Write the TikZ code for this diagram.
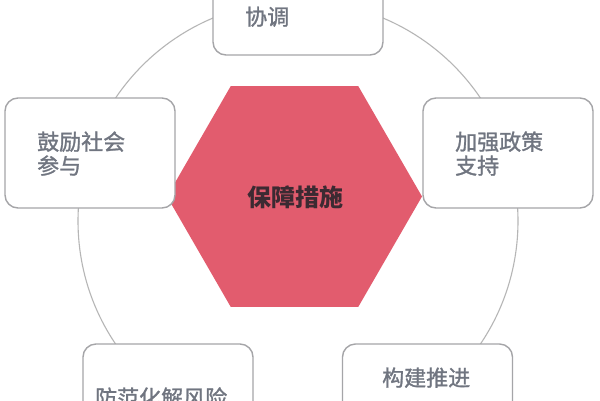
\documentclass[tikz,border=0pt]{standalone}
\usepackage{fontspec}
\setmainfont{Noto Sans CJK SC}
\newfontfamily\medcjk[FakeBold=1.2]{Noto Sans CJK SC}
\usetikzlibrary{shapes.geometric}
\definecolor{ringgray}{RGB}{182,182,182}
\definecolor{boxgray}{RGB}{165,165,168}
\definecolor{txtgray}{RGB}{112,117,128}
\definecolor{hexred}{RGB}{226,92,110}
\definecolor{hextxt}{RGB}{60,42,50}
\tikzset{
  ring/.style={draw=ringgray, line width=1.1pt},
  boxnode/.style={draw=boxgray, line width=1.4pt, fill=white, rounded corners=13pt,
    minimum width=170pt, minimum height=110pt, inner sep=0pt},
  boxtext/.style={anchor=base west, inner sep=0pt, text=txtgray,
    font=\medcjk\fontsize{22}{24}\selectfont},
  hexnode/.style={regular polygon, regular polygon sides=6, fill=hexred, draw=none,
    minimum size=255pt, inner sep=0pt},
  hextext/.style={anchor=base, inner sep=0pt, text=hextxt,
    font=\fontsize{24}{26}\selectfont\bfseries}
}
\begin{document}
\begin{tikzpicture}[x=1pt,y=-1pt]
\useasboundingbox (0,0) rectangle (600,400);
\clip (0,0) rectangle (600,400);
\fill[white] (0,0) rectangle (600,400);
% outer ring
\node[circle, minimum size=440pt, inner sep=0pt, ring] (ringc) at (298,221) {};
% central hexagon
\node[hexnode] (hex) at (294.5,196.5) {};
\node[hextext] (hexlabel) at (295,206) {保障措施};
% boxes
\node[boxnode] (btop) at (298,0) {};
\node[boxnode] (bleft) at (90,153) {};
\node[boxnode] (bright) at (508,153) {};
\node[boxnode] (bbl) at (168,399) {};
\node[boxnode] (bbr) at (427.5,399) {};
% texts
\node[boxtext] (ttop) at (245,25) {协调};
\node[boxtext] (tleft1) at (37,150) {鼓励社会};
\node[boxtext] (tleft2) at (37,174) {参与};
\node[boxtext] (tright1) at (455,150) {加强政策};
\node[boxtext] (tright2) at (455,174) {支持};
\node[boxtext] (tbl) at (95,406) {防范化解风险};
\node[boxtext] (tbr) at (382,386) {构建推进};
\end{tikzpicture}
\end{document}
